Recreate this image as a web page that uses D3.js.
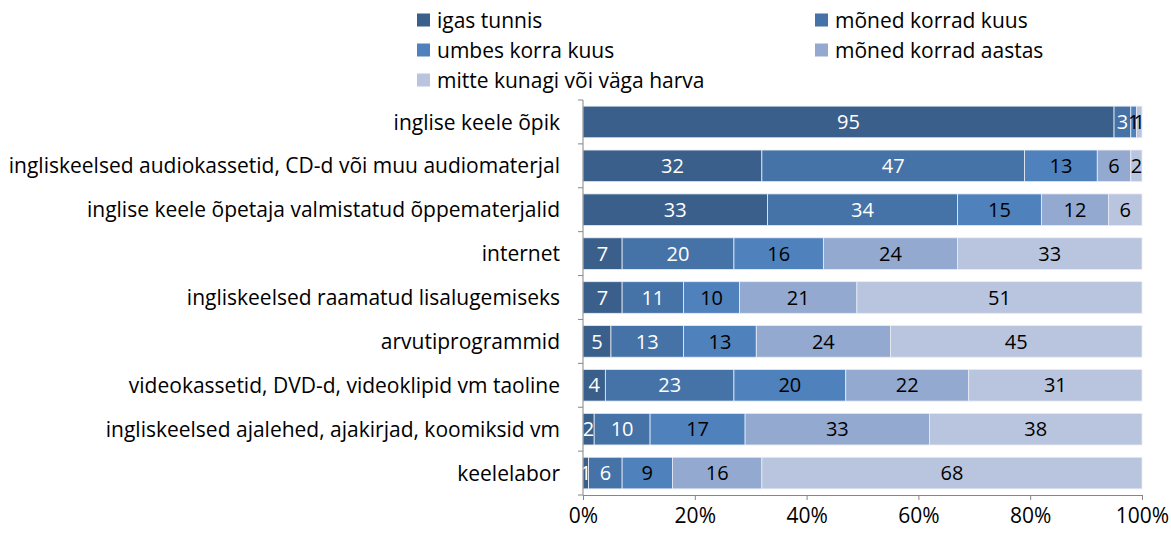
<!DOCTYPE html>
<html>
<head>
<meta charset="utf-8">
<script src="https://cdn.jsdelivr.net/npm/d3@7"></script>
<style>
  body { margin: 0; background: #fff; }
  svg text { font-family: "Open Sans", Lato, sans-serif; }
</style>
</head>
<body>
<div id="chart"></div>
<script>
// categories, top to bottom
const categories = [
    "inglise keele õpik",
    "ingliskeelsed audiokassetid, CD-d või muu audiomaterjal",
    "inglise keele õpetaja valmistatud õppematerjalid",
    "internet",
    "ingliskeelsed raamatud lisalugemiseks",
    "arvutiprogrammid",
    "videokassetid, DVD-d, videoklipid vm taoline",
    "ingliskeelsed ajalehed, ajakirjad, koomiksid vm",
    "keelelabor"
];

const seriesNames = [
    "igas tunnis",
    "mõned korrad kuus",
    "umbes korra kuus",
    "mõned korrad aastas",
    "mitte kunagi või väga harva"
];

// values per series, same order as categories
const igasTunnis      = [95, 32, 33,  7,  7,  5,  4,  2,  1];
const monedKuus       = [ 3, 47, 34, 20, 11, 13, 23, 10,  6];
const umbesKuus       = [ 1, 13, 15, 16, 10, 13, 20, 17,  9];
const monedAastas     = [ 0,  6, 12, 24, 21, 24, 22, 33, 16];
const mitteKunagi     = [ 1,  2,  6, 33, 51, 45, 31, 38, 68];

const xTicks = [0, 20, 40, 60, 80, 100];

const seriesColors = ["#3a5f8b", "#4572a7", "#4f81bd", "#93a9cf", "#b9c5de"];
const labelColors = ["#ffffff", "#ffffff", "#000000", "#000000", "#000000"];

const W = 1171, H = 534;
const margin = {top: 100, left: 583, right: 29, bottom: 39};
const fontSize = "21px";

const svg = d3.select("#chart").append("svg")
    .attr("width", W)
    .attr("height", H);

// build rows for the stack
const allSeries = [igasTunnis, monedKuus, umbesKuus, monedAastas, mitteKunagi];
const rows = categories.map((c, i) => {
    const r = {cat: c};
    seriesNames.forEach((s, k) => r[s] = allSeries[k][i]);
    return r;
});

const stacked = d3.stack().keys(seriesNames)(rows);

const x = d3.scaleLinear()
    .domain([0, 100])
    .range([margin.left, W - margin.right]);

const y = d3.scaleBand()
    .domain(categories)
    .range([margin.top, H - margin.bottom])
    .paddingInner(0.28)
    .paddingOuter(0.14);

// bars
const layers = svg.selectAll(".layer")
    .data(stacked)
    .enter().append("g")
    .attr("class", "layer")
    .attr("fill", (d, i) => seriesColors[i]);

layers.selectAll("rect")
    .data(d => d)
    .enter().append("rect")
    .attr("x", d => x(d[0]))
    .attr("y", d => y(d.data.cat))
    .attr("width", d => x(d[1]) - x(d[0]))
    .attr("height", y.bandwidth())
    .attr("stroke", "#e8ecf4")
    .attr("stroke-width", 0.8);

// value labels
stacked.forEach((layer, k) => {
    svg.append("g")
        .selectAll("text")
        .data(layer.filter(d => d[1] - d[0] > 0))
        .enter().append("text")
        .attr("x", d => (x(d[0]) + x(d[1])) / 2)
        .attr("y", d => y(d.data.cat) + y.bandwidth() / 2)
        .attr("dy", "0.36em")
        .attr("text-anchor", "middle")
        .attr("font-size", "20px")
        .attr("fill", labelColors[k])
        .text(d => d[1] - d[0]);
});

// y axis: line with ticks between categories
const yAxis = svg.append("g").attr("class", "y-axis");
yAxis.append("line")
    .attr("x1", margin.left).attr("x2", margin.left)
    .attr("y1", margin.top).attr("y2", H - margin.bottom)
    .attr("stroke", "#868686");
d3.range(categories.length + 1).forEach(i => {
    const yy = margin.top + i * (H - margin.top - margin.bottom) / categories.length;
    yAxis.append("line")
        .attr("x1", margin.left - 5).attr("x2", margin.left)
        .attr("y1", yy).attr("y2", yy)
        .attr("stroke", "#868686");
});
yAxis.selectAll(".cat-label")
    .data(categories)
    .enter().append("text")
    .attr("class", "cat-label")
    .attr("x", margin.left - 23)
    .attr("y", d => y(d) + y.bandwidth() / 2)
    .attr("dy", "0.36em")
    .attr("text-anchor", "end")
    .attr("font-size", fontSize)
    .attr("fill", "#000")
    .text(d => d);

// x axis
const xAxis = svg.append("g")
    .attr("transform", `translate(0,${H - margin.bottom})`)
    .call(d3.axisBottom(x).tickValues(xTicks).tickSize(5).tickFormat(d => d + "%"));
xAxis.select(".domain").attr("stroke", "#868686");
xAxis.selectAll(".tick line").attr("stroke", "#868686");
xAxis.selectAll("text")
    .attr("font-size", fontSize)
    .attr("fill", "#000")
    .attr("dy", "0.95em")
    .attr("font-family", "'Open Sans', Lato, sans-serif");

// legend
const legendPos = [[417, 20], [815, 20], [417, 50], [815, 50], [417, 80]];
const legend = svg.append("g").attr("class", "legend");
seriesNames.forEach((s, i) => {
    const [lx, ly] = legendPos[i];
    legend.append("rect")
        .attr("x", lx).attr("y", ly - 6.5)
        .attr("width", 13).attr("height", 13)
        .attr("fill", seriesColors[i]);
    legend.append("text")
        .attr("x", lx + 20).attr("y", ly)
        .attr("dy", "0.36em")
        .attr("font-size", fontSize)
        .attr("fill", "#000")
        .text(s);
});
</script>
</body>
</html>
